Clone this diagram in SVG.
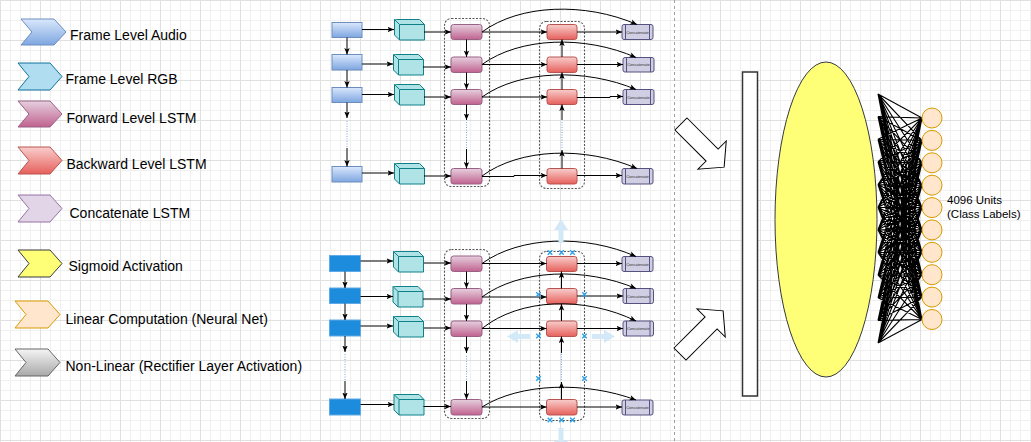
<svg xmlns="http://www.w3.org/2000/svg" xmlns:xlink="http://www.w3.org/1999/xlink" width="1031" height="442" viewBox="0 0 1031 442">
<style>
.lg{font-family:"Liberation Sans",Arial,sans-serif;font-size:14px;fill:#000}
.sm{font-family:"Liberation Sans",Arial,sans-serif;font-size:11.5px;fill:#000}
.ct{font-family:"Liberation Sans",Arial,sans-serif;font-size:4px;fill:#333;text-anchor:middle}
.e{fill:none;stroke:#000;stroke-width:1}
.ea{fill:none;stroke:#000;stroke-width:1;marker-end:url(#arr)}
.dot{fill:none;stroke:#7ea6e0;stroke-width:1;stroke-dasharray:1 1.5}
.grp{fill:none;stroke:#555;stroke-width:1.1;stroke-dasharray:2 1.5}
.aud{fill:url(#gAud);stroke:#6c8ebf}
.aud2{fill:#1e8cdc;stroke:#5ea9e6}
.cube{fill:#b0e3e6;stroke:#0e8088;stroke-width:1}
.fwd{fill:url(#gFwd);stroke:#996185}
.bwd{fill:url(#gBwd);stroke:#b85450}
.cat{fill:#d0cee2;stroke:#56517e}
.catl{stroke:#56517e;fill:none}
.xm{stroke:#29a0e8;stroke-width:1.3;fill:none}
.hov{fill:#d3e9f8}
.mesh{fill:none;stroke:#000;stroke-width:1.1}
.unit{fill:#ffe6cc;stroke:#d79b00;stroke-width:1}
</style>
<defs>
<pattern id="grid" width="40" height="40" patternUnits="userSpaceOnUse">
<path d="M10.5 0V40M20.5 0V40M30.5 0V40M0 10.5H40M0 20.5H40M0 30.5H40" stroke="#f0f0f0" stroke-width="1" fill="none"/>
<path d="M0.5 0V40M0 0.5H40" stroke="#e0e0e0" stroke-width="1" fill="none"/>
</pattern>
<linearGradient id="gAud" x1="0" y1="0" x2="0" y2="1"><stop offset="0" stop-color="#dae8fc"/><stop offset="1" stop-color="#7ea6e0"/></linearGradient>
<linearGradient id="gFwd" x1="0" y1="0" x2="0" y2="1"><stop offset="0" stop-color="#e6d0de"/><stop offset="1" stop-color="#c0628f"/></linearGradient>
<linearGradient id="gBwd" x1="0" y1="0" x2="0" y2="1"><stop offset="0" stop-color="#f8cecc"/><stop offset="1" stop-color="#e6605c"/></linearGradient>
<linearGradient id="gGray" x1="0" y1="0" x2="0" y2="1"><stop offset="0" stop-color="#f5f5f5"/><stop offset="1" stop-color="#a8a8a8"/></linearGradient>
<marker id="arr" markerWidth="7" markerHeight="6" refX="6.5" refY="3" orient="auto" markerUnits="userSpaceOnUse"><path d="M0,0.3 L6.5,3 L0,5.7 L1.5,3 z" fill="#000"/></marker>
<g id="cubeS"><path class="cube" d="M0.5 0.5H25.5L30.5 5.5V21H5.5L0.5 16Z"/><path class="cube" d="M0.5 0.5L5.5 5.5H30.5M5.5 5.5V21" fill="none"/></g>
<path id="xmk" class="xm" d="M-2.3 -2.3L2.3 2.3M-2.3 2.3L2.3 -2.3"/>
</defs>
<rect width="1031" height="442" fill="#fff"/>
<rect width="1031" height="442" fill="url(#grid)"/>
<line x1="674.5" y1="0" x2="674.5" y2="442" stroke="#a0a0a0" stroke-dasharray="3 3"/>

<!-- Legend -->
<g id="legend-audio"><polygon points="21,19 54,19 66,32 54,45 21,45 32,32" fill="url(#gAud)" stroke="#6c8ebf"/><text class="lg" x="70" y="40">Frame Level Audio</text></g>
<g id="legend-rgb"><polygon points="18,63 50,63 62,76.5 50,90 18,90 29,76.5" fill="#b1ddf0" stroke="#10739e"/><text class="lg" x="65.5" y="84">Frame Level RGB</text></g>
<g id="legend-fwd"><polygon points="18,101 50,101 62,114 50,127 18,127 29,114" fill="url(#gFwd)" stroke="#996185"/><text class="lg" x="66.5" y="123">Forward Level LSTM</text></g>
<g id="legend-bwd"><polygon points="18,147 50,147 62,160.5 50,174 18,174 29,160.5" fill="url(#gBwd)" stroke="#b85450"/><text class="lg" x="66.5" y="169">Backward Level LSTM</text></g>
<g id="legend-cat"><polygon points="18,195 50,195 62,208.5 50,222 18,222 29,208.5" fill="#e1d5e7" stroke="#9673a6"/><text class="lg" x="69.5" y="217.5">Concatenate LSTM</text></g>
<g id="legend-sig"><polygon points="18,250 50,250 62,263.5 50,277 18,277 29,263.5" fill="#ffff77" stroke="#36393d"/><text class="lg" x="68.5" y="271">Sigmoid Activation</text></g>
<g id="legend-lin"><polygon points="15,301 48,301 60,314.5 48,328 15,328 26,314.5" fill="#ffe6cc" stroke="#d79b00"/><text class="lg" x="65.5" y="323.5">Linear Computation (Neural Net)</text></g>
<g id="legend-relu"><polygon points="15,349 48,349 60,362.5 48,376 15,376 26,362.5" fill="url(#gGray)" stroke="#666666"/><text class="lg" x="65.5" y="371">Non-Linear (Rectifier Layer Activation)</text></g>

<!-- Top network nodes -->
<g id="grp-fwd-top"><rect class="grp" x="444.5" y="18.5" width="45" height="168" rx="7"/></g>
<g id="grp-bwd-top"><rect class="grp" x="539.5" y="21.5" width="45" height="167" rx="7"/></g>
<g id="aud-t1"><rect class="aud" x="332" y="22.5" width="30" height="15"/></g>
<g id="aud-t2"><rect class="aud" x="332" y="54.5" width="30" height="15.5"/></g>
<g id="aud-t3"><rect class="aud" x="332" y="87.5" width="30" height="15"/></g>
<g id="aud-t4"><rect class="aud" x="332" y="166.5" width="30" height="15.5"/></g>
<g id="rgb-t1" transform="translate(394,19)"><use xlink:href="#cubeS"/></g>
<g id="rgb-t2" transform="translate(393,54)"><use xlink:href="#cubeS"/></g>
<g id="rgb-t3" transform="translate(394,84)"><use xlink:href="#cubeS"/></g>
<g id="rgb-t4" transform="translate(394,163)"><use xlink:href="#cubeS"/></g>
<g id="fwd-t1"><rect class="fwd" x="451" y="24.5" width="31" height="15" rx="2.5"/></g>
<g id="fwd-t2"><rect class="fwd" x="451" y="57" width="31" height="15.5" rx="2.5"/></g>
<g id="fwd-t3"><rect class="fwd" x="451" y="89.5" width="31" height="15" rx="2.5"/></g>
<g id="fwd-t4"><rect class="fwd" x="451" y="168.5" width="31" height="15.5" rx="2.5"/></g>
<g id="bwd-t1"><rect class="bwd" x="547" y="24.5" width="30" height="15" rx="2.5"/></g>
<g id="bwd-t2"><rect class="bwd" x="547" y="57" width="30" height="15.5" rx="2.5"/></g>
<g id="bwd-t3"><rect class="bwd" x="547" y="89.5" width="30" height="15" rx="2.5"/></g>
<g id="bwd-t4"><rect class="bwd" x="547" y="168.5" width="30" height="15.5" rx="2.5"/></g>
<g id="cat-t1"><rect class="cat" x="622" y="24.5" width="31" height="15" rx="2"/><path class="catl" d="M625.5 24.5V39.5M649.5 24.5V39.5"/><text class="ct" x="637.5" y="33.5">Concatenate</text></g>
<g id="cat-t2"><rect class="cat" x="623" y="57.5" width="31" height="14.5" rx="2"/><path class="catl" d="M626.5 57.5V72M650.5 57.5V72"/><text class="ct" x="638.5" y="66">Concatenate</text></g>
<g id="cat-t3"><rect class="cat" x="623" y="89.5" width="31" height="15" rx="2"/><path class="catl" d="M626.5 89.5V104.5M650.5 89.5V104.5"/><text class="ct" x="638.5" y="98.5">Concatenate</text></g>
<g id="cat-t4"><rect class="cat" x="622" y="168.5" width="31" height="15.5" rx="2"/><path class="catl" d="M625.5 168.5V184M649.5 168.5V184"/><text class="ct" x="637.5" y="177.5">Concatenate</text></g>

<!-- Bottom network nodes -->
<g id="grp-fwd-bot"><rect class="grp" x="444.5" y="249.5" width="45" height="169" rx="7"/></g>
<g id="grp-bwd-bot"><rect class="grp" x="539.5" y="251.5" width="45" height="169" rx="7"/></g>
<g id="aud-b1"><rect class="aud2" x="329.5" y="255.5" width="31" height="16"/></g>
<g id="aud-b2"><rect class="aud2" x="329.5" y="288" width="31" height="15.5"/></g>
<g id="aud-b3"><rect class="aud2" x="329.5" y="320" width="31" height="16"/></g>
<g id="aud-b4"><rect class="aud2" x="329.5" y="399" width="31" height="16"/></g>
<g id="rgb-b1" transform="translate(393,251)"><use xlink:href="#cubeS"/></g>
<g id="rgb-b2" transform="translate(392.5,286)"><use xlink:href="#cubeS"/></g>
<g id="rgb-b3" transform="translate(393,316)"><use xlink:href="#cubeS"/></g>
<g id="rgb-b4" transform="translate(393.5,394)"><use xlink:href="#cubeS"/></g>
<g id="fwd-b1"><rect class="fwd" x="451" y="256" width="31" height="15.5" rx="2.5"/></g>
<g id="fwd-b2"><rect class="fwd" x="451" y="288.5" width="31" height="15.5" rx="2.5"/></g>
<g id="fwd-b3"><rect class="fwd" x="451" y="321" width="31" height="15.5" rx="2.5"/></g>
<g id="fwd-b4"><rect class="fwd" x="451" y="399.5" width="31" height="15.5" rx="2.5"/></g>
<g id="bwd-b1"><rect class="bwd" x="546.5" y="256.5" width="30.5" height="15" rx="2.5"/></g>
<g id="bwd-b2"><rect class="bwd" x="546.5" y="288.5" width="30.5" height="15.5" rx="2.5"/></g>
<g id="bwd-b3"><rect class="bwd" x="546.5" y="321" width="30.5" height="15.5" rx="2.5"/></g>
<g id="bwd-b4"><rect class="bwd" x="546.5" y="399.5" width="30.5" height="15.5" rx="2.5"/></g>
<g id="cat-b1"><rect class="cat" x="622" y="256.5" width="31" height="15" rx="2"/><path class="catl" d="M625.5 256.5V271.5M649.5 256.5V271.5"/><text class="ct" x="637.5" y="265.5">Concatenate</text></g>
<g id="cat-b2"><rect class="cat" x="623" y="288.5" width="30.5" height="15" rx="2"/><path class="catl" d="M626.5 288.5V303.5M650 288.5V303.5"/><text class="ct" x="638.3" y="297.5">Concatenate</text></g>
<g id="cat-b3"><rect class="cat" x="623" y="321" width="30.5" height="15" rx="2"/><path class="catl" d="M626.5 321V336M650 321V336"/><text class="ct" x="638.3" y="330">Concatenate</text></g>
<g id="cat-b4"><rect class="cat" x="622" y="400" width="31" height="15" rx="2"/><path class="catl" d="M625.5 400V415M649.5 400V415"/><text class="ct" x="637.5" y="409">Concatenate</text></g>

<!-- Connectors -->
<g id="connectors">
<path class="ea" d="M362 29.5H394"/>
<path class="ea" d="M424 32H451"/>
<path class="ea" d="M362 64H393"/>
<path class="ea" d="M423 67H451"/>
<path class="ea" d="M362 94.5H394"/>
<path class="ea" d="M424 97H451"/>
<path class="ea" d="M362 173H394"/>
<path class="ea" d="M424 176H451"/>
<path class="ea" d="M482 32H547"/>
<path class="ea" d="M482 64.5H547"/>
<path class="ea" d="M482 97H547"/>
<path class="ea" d="M482 176.5H514V175.5H547"/>
<path class="ea" d="M577 32H622"/>
<path class="ea" d="M577 64.5H623"/>
<path class="ea" d="M577 97.5H610V96.5H623"/>
<path class="ea" d="M577 175.5H622"/>
<path class="ea" d="M347 37.5V54.5"/>
<path class="ea" d="M347 70V87.5"/>
<path class="ea" d="M347 102.5V118"/>
<path class="dot" d="M347 121V147"/>
<path class="ea" d="M347 148V166.5"/>
<path class="ea" d="M466.5 39.5V57"/>
<path class="ea" d="M466.5 72.5V89.5"/>
<path class="ea" d="M466.5 104.5V120"/>
<path class="dot" d="M466.5 122V148"/>
<path class="ea" d="M466.5 149V168.5"/>
<path class="ea" d="M562 57V39.5"/>
<path class="ea" d="M562 89.5V72.5"/>
<path class="ea" d="M562 168.5V150"/>
<path class="dot" d="M562 148V122"/>
<path class="ea" d="M562 120V104.5"/>
<path class="ea" d="M482 32C520 4 585 2 637 24.5"/>
<path class="ea" d="M482 64.5C520 37 585 35 636 57.5"/>
<path class="ea" d="M482 97C520 70 585 68 636 89.5"/>
<path class="ea" d="M482 176C520 148 585 146 637 168.5"/>
<path class="ea" d="M360.5 261H393"/>
<path class="ea" d="M424 263H451"/>
<path class="ea" d="M360.5 296.5H393"/>
<path class="ea" d="M423 299H451"/>
<path class="ea" d="M360.5 326H393"/>
<path class="ea" d="M424 328H451"/>
<path class="ea" d="M360.5 404.5H394"/>
<path class="ea" d="M423.5 406.5H451"/>
<path class="ea" d="M482 263.5H546.5"/>
<path class="ea" d="M482 297H546.5"/>
<path class="ea" d="M482 328.5H546.5"/>
<path class="ea" d="M482 407H546.5"/>
<path class="ea" d="M577 263.5H622"/>
<path class="ea" d="M577 296H623"/>
<path class="ea" d="M577 328.5H623"/>
<path class="ea" d="M577 407H622"/>
<path class="ea" d="M345 271.5V288"/>
<path class="ea" d="M345 303.5V320"/>
<path class="ea" d="M345 336V352"/>
<path class="dot" d="M345 354V380"/>
<path class="ea" d="M345 381V399"/>
<path class="ea" d="M466.5 271.5V288.5"/>
<path class="ea" d="M466.5 304V321"/>
<path class="ea" d="M466.5 336.5V353"/>
<path class="dot" d="M466.5 356V380"/>
<path class="ea" d="M466.5 381V399.5"/>
<path class="ea" d="M561.5 288.5V271.5"/>
<path class="ea" d="M561.5 321V304"/>
<path class="ea" d="M561.5 399.5V382"/>
<path class="dot" d="M561.5 380V354"/>
<path class="ea" d="M561.5 353V336.5"/>
<path class="ea" d="M482 263.5C520 236 585 234 636 256.5"/>
<path class="ea" d="M482 297C520 269 585 267 636 288.5"/>
<path class="ea" d="M482 328.5C520 298 585 296 636 321"/>
<path class="ea" d="M482 407C520 383 585 381 636 400"/>
</g>

<g id="hover-arrows">
<polygon class="hov" points="561,219 568,230 563.5,230 563.5,243 558.5,243 558.5,230 554,230"/>
<polygon class="hov" points="507,336.5 518,330 518,334 530,334 530,339 518,339 518,343"/>
<polygon class="hov" points="615,336.5 604,330 604,334 592,334 592,339 604,339 604,343"/>
<polygon class="hov" points="561,452 568,441 563.5,441 563.5,428 558.5,428 558.5,441 554,441"/>
</g>
<g id="handles">
<use xlink:href="#xmk" x="550" y="252.5"/><use xlink:href="#xmk" x="561.5" y="252.5"/><use xlink:href="#xmk" x="572.5" y="252.5"/>
<use xlink:href="#xmk" x="538.5" y="294.5"/><use xlink:href="#xmk" x="584.5" y="294.5"/>
<use xlink:href="#xmk" x="538.5" y="336"/><use xlink:href="#xmk" x="584.5" y="336"/>
<use xlink:href="#xmk" x="538.5" y="378.5"/><use xlink:href="#xmk" x="584.5" y="378.5"/>
<use xlink:href="#xmk" x="550" y="420"/><use xlink:href="#xmk" x="561.5" y="420"/><use xlink:href="#xmk" x="572.5" y="420"/>
</g>

<!-- Right side -->
<g id="arrow-top" transform="translate(681,124) rotate(45)"><polygon points="0,-8.5 44,-8.5 44,-20 61,0 44,20 44,8.5 0,8.5" fill="#fff" stroke="#000" stroke-width="1"/></g>
<g id="arrow-bot" transform="translate(680,354) rotate(-45)"><polygon points="0,-8.5 44,-8.5 44,-20 61,0 44,20 44,8.5 0,8.5" fill="#fff" stroke="#000" stroke-width="1"/></g>
<g id="merge-bar"><rect x="742.5" y="72" width="15" height="324" fill="#fff" stroke="#333" stroke-width="1.5"/></g>
<g id="sigmoid"><ellipse cx="826" cy="219.5" rx="51" ry="157.5" fill="#ffff77" stroke="#36393d" stroke-width="1"/></g>
<g id="mesh">
<path class="mesh" d="M878 94L922 118M878 94L922 140.4M878 94L922 162.8M878 94L922 185.2M878 94L922 207.6M878 94L922 229.9M878 94L922 252.3M878 94L922 274.7M878 94L922 297.1M878 94L922 319.5
M878 116.6L922 118M878 116.6L922 140.4M878 116.6L922 162.8M878 116.6L922 185.2M878 116.6L922 207.6M878 116.6L922 229.9M878 116.6L922 252.3M878 116.6L922 274.7M878 116.6L922 297.1M878 116.6L922 319.5
M878 139.3L922 118M878 139.3L922 140.4M878 139.3L922 162.8M878 139.3L922 185.2M878 139.3L922 207.6M878 139.3L922 229.9M878 139.3L922 252.3M878 139.3L922 274.7M878 139.3L922 297.1M878 139.3L922 319.5
M878 161.9L922 118M878 161.9L922 140.4M878 161.9L922 162.8M878 161.9L922 185.2M878 161.9L922 207.6M878 161.9L922 229.9M878 161.9L922 252.3M878 161.9L922 274.7M878 161.9L922 297.1M878 161.9L922 319.5
M878 184.6L922 118M878 184.6L922 140.4M878 184.6L922 162.8M878 184.6L922 185.2M878 184.6L922 207.6M878 184.6L922 229.9M878 184.6L922 252.3M878 184.6L922 274.7M878 184.6L922 297.1M878 184.6L922 319.5
M878 207.2L922 118M878 207.2L922 140.4M878 207.2L922 162.8M878 207.2L922 185.2M878 207.2L922 207.6M878 207.2L922 229.9M878 207.2L922 252.3M878 207.2L922 274.7M878 207.2L922 297.1M878 207.2L922 319.5
M878 229.8L922 118M878 229.8L922 140.4M878 229.8L922 162.8M878 229.8L922 185.2M878 229.8L922 207.6M878 229.8L922 229.9M878 229.8L922 252.3M878 229.8L922 274.7M878 229.8L922 297.1M878 229.8L922 319.5
M878 252.5L922 118M878 252.5L922 140.4M878 252.5L922 162.8M878 252.5L922 185.2M878 252.5L922 207.6M878 252.5L922 229.9M878 252.5L922 252.3M878 252.5L922 274.7M878 252.5L922 297.1M878 252.5L922 319.5
M878 275.1L922 118M878 275.1L922 140.4M878 275.1L922 162.8M878 275.1L922 185.2M878 275.1L922 207.6M878 275.1L922 229.9M878 275.1L922 252.3M878 275.1L922 274.7M878 275.1L922 297.1M878 275.1L922 319.5
M878 297.8L922 118M878 297.8L922 140.4M878 297.8L922 162.8M878 297.8L922 185.2M878 297.8L922 207.6M878 297.8L922 229.9M878 297.8L922 252.3M878 297.8L922 274.7M878 297.8L922 297.1M878 297.8L922 319.5
M878 320.4L922 118M878 320.4L922 140.4M878 320.4L922 162.8M878 320.4L922 185.2M878 320.4L922 207.6M878 320.4L922 229.9M878 320.4L922 252.3M878 320.4L922 274.7M878 320.4L922 297.1M878 320.4L922 319.5
M878 343L922 118M878 343L922 140.4M878 343L922 162.8M878 343L922 185.2M878 343L922 207.6M878 343L922 229.9M878 343L922 252.3M878 343L922 274.7M878 343L922 297.1M878 343L922 319.5"/>
</g>
<g id="units">
<circle class="unit" cx="932" cy="118" r="10"/>
<circle class="unit" cx="932" cy="140.4" r="10"/>
<circle class="unit" cx="932" cy="162.8" r="10"/>
<circle class="unit" cx="932" cy="185.2" r="10"/>
<circle class="unit" cx="932" cy="207.6" r="10"/>
<circle class="unit" cx="932" cy="229.9" r="10"/>
<circle class="unit" cx="932" cy="252.3" r="10"/>
<circle class="unit" cx="932" cy="274.7" r="10"/>
<circle class="unit" cx="932" cy="297.1" r="10"/>
<circle class="unit" cx="932" cy="319.5" r="10"/>
</g>
<g id="units-label"><text class="sm" x="947" y="204">4096 Units</text><text class="sm" x="947" y="217.5">(Class Labels)</text></g>
</svg>
